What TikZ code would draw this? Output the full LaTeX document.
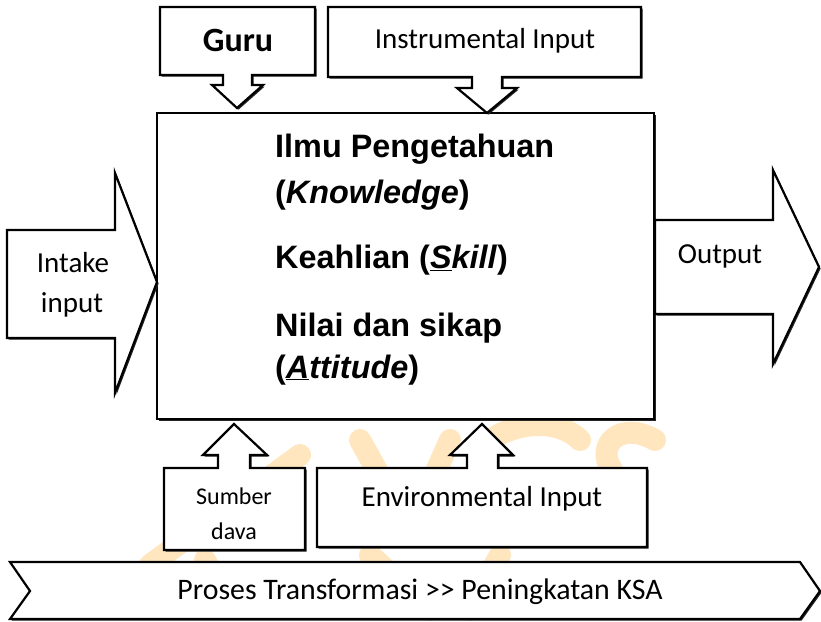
\documentclass[tikz,border=0pt]{standalone}
\usepackage{fontspec}
\setmainfont{Carlito}
\newfontfamily\headfont{Liberation Sans}
\usetikzlibrary{shadows}
\begin{document}
\begin{tikzpicture}[x=1pt,y=-1pt,
  shape box/.style={draw=black, line width=2.2pt, fill=white, line join=miter,
    drop shadow={shadow xshift=1.6pt, shadow yshift=-1.6pt, fill=black!85, opacity=1}},
  label/.style={font=\fontsize{29}{29}\selectfont, inner sep=0pt},
  small label/.style={font=\fontsize{24}{24}\selectfont, inner sep=0pt},
  head/.style={font=\headfont\bfseries\fontsize{32.4}{32.4}\selectfont, inner sep=0pt, anchor=base west},
  mark stroke/.style={draw=orange!75!yellow, line width=22pt, line cap=round, opacity=0.25}]
\useasboundingbox (0,0) rectangle (821,621);
\fill[white] (0,0) rectangle (821,621);

% faint watermark strokes in the background
\draw[mark stroke] (150,565) -- (300,455);
\draw[mark stroke] (360,440) -- (410,530);
\draw[mark stroke] (410,530) -- (450,440);
\draw[mark stroke] (490,440) .. controls (520,420) and (560,420) .. (580,440);
\draw[mark stroke] (655,440) .. controls (620,420) and (595,445) .. (612,470);
\draw[mark stroke] (205,560) -- (225,600);
\draw[mark stroke] (370,555) -- (430,610);
\draw[mark stroke] (500,555) -- (470,610);

% process band along the bottom
\path[shape box] (10,562) -- (800,562) -- (820,591) -- (800,619) -- (10,619) -- (30,591) -- cycle;
\node[label, font=\fontsize{29.8}{29.8}\selectfont] (proses) at (420,592) {Proses Transformasi >{}> Peningkatan KSA};

% central process box
\path[shape box] (157,113) rectangle (654,419);
\node[head] (k1) at (275,157) {Ilmu Pengetahuan};
\node[head] (k2) at (275,203) {(\textit{Knowledge})};
\node[head] (k3) at (275,268) {Keahlian (\underline{\textit{S}}\textit{kill})};
\node[head] (k4) at (275,336) {Nilai dan sikap};
\node[head] (k5) at (275,378) {(\underline{\textit{A}}\textit{ttitude})};

% top callouts pointing down
\path[shape box] (160,7) -- (315,7) -- (315,75) -- (252,75) -- (252,85) -- (263,85)
  -- (237,108) -- (212,85) -- (223,85) -- (223,75) -- (160,75) -- cycle;
\node[label, font=\bfseries\fontsize{34}{34}\selectfont] (guru) at (238,40) {Guru};

\path[shape box] (328,7) -- (641,7) -- (641,77) -- (502,77) -- (502,88) -- (517,88)
  -- (487,113) -- (457,88) -- (472,88) -- (472,77) -- (328,77) -- cycle;
\node[label] (instr) at (485,41) {Instrumental Input};

% side arrows
\path[shape box] (7,230) -- (115,230) -- (115,173) -- (157,282) -- (115,393)
  -- (115,338) -- (7,338) -- cycle;
\node[label] (intake1) at (73,263) {Intake};
\node[label] (intake2) at (72,305) {input};

\path[shape box] (655,220) -- (773,220) -- (773,170) -- (819,267) -- (773,364)
  -- (773,314) -- (655,314) -- cycle;
\node[label] (output) at (720,256) {Output};

% bottom callouts pointing up
\path[shape box] (164,468) -- (218,468) -- (218,455) -- (203,455) -- (234,424)
  -- (267,455) -- (250,455) -- (250,468) -- (305,468) -- (305,550) -- (164,550) -- cycle;
\node[small label] (sumber1) at (234,496) {Sumber};
\node[small label] (sumber2) at (234,531) {dava};

\path[shape box] (317,468) -- (467,468) -- (467,455) -- (450,455) -- (482,424)
  -- (513,455) -- (498,455) -- (498,468) -- (647,468) -- (647,547) -- (317,547) -- cycle;
\node[label] (env) at (482,499) {Environmental Input};
\end{tikzpicture}
\end{document}
